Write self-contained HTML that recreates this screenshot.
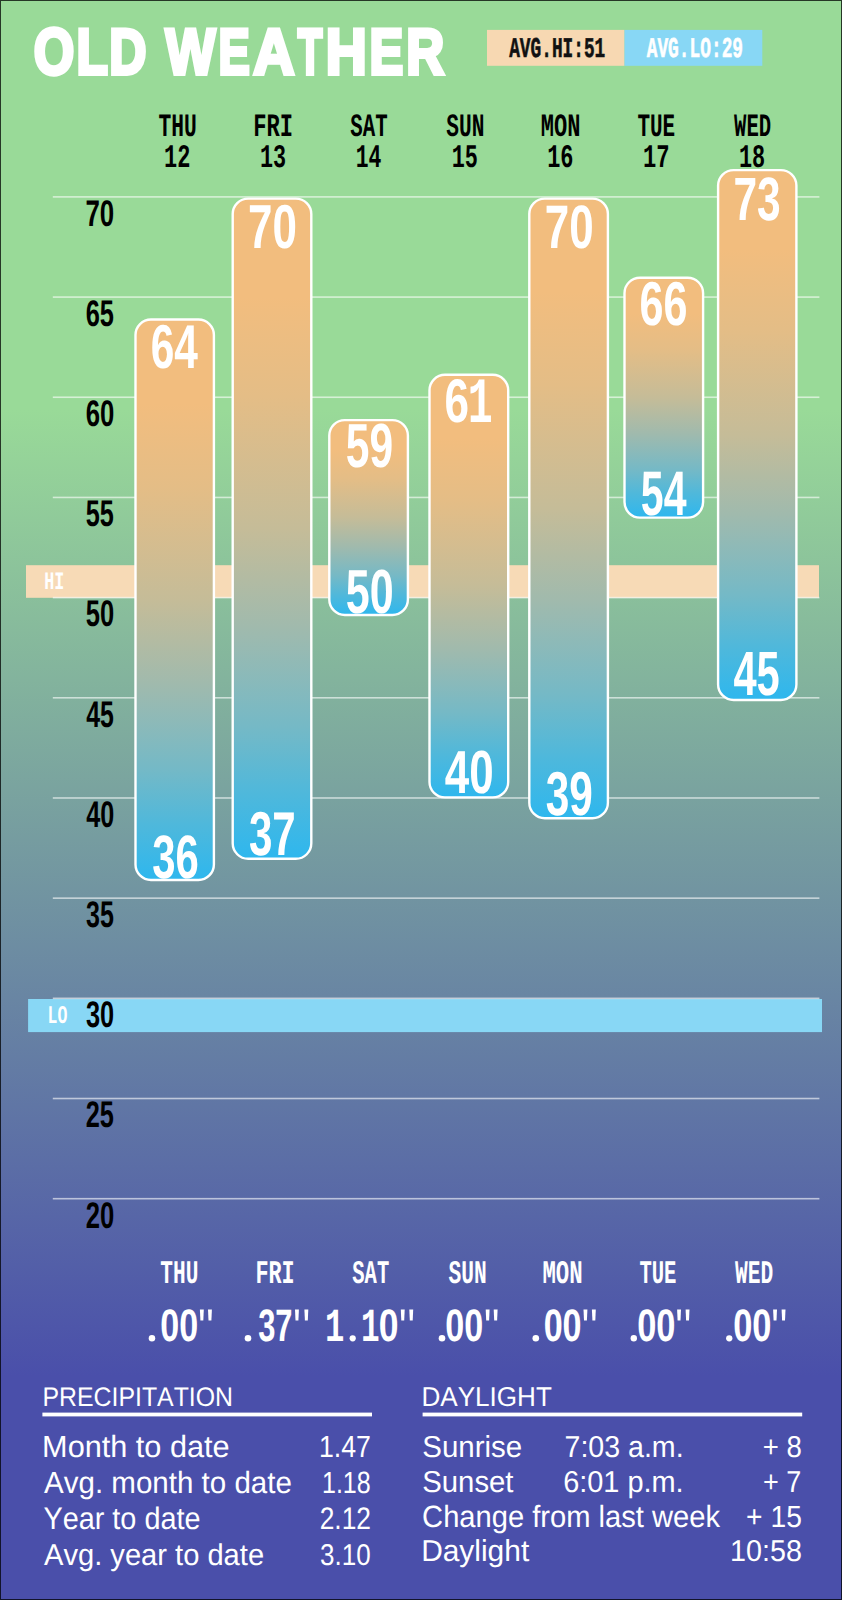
<!DOCTYPE html>
<html><head><meta charset="utf-8"><style>
html,body{margin:0;padding:0;width:842px;height:1600px;overflow:hidden;background:#4a4faa}
svg{display:block}
text{font-kerning:none;white-space:pre;text-rendering:geometricPrecision}
</style></head><body>
<svg width="842" height="1600" viewBox="0 0 842 1600">
<defs>
<linearGradient id="bgp" x1="0" y1="0" x2="0" y2="1600" gradientUnits="userSpaceOnUse">
<stop offset="0" stop-color="#99da98"/>
<stop offset="0.256" stop-color="#99da98"/>
<stop offset="0.86" stop-color="#4a4faa"/>
<stop offset="1" stop-color="#4a4faa"/>
</linearGradient>
<linearGradient id="bg" x1="0" y1="0" x2="0" y2="1">
<stop offset="0.00" stop-color="#f2bd7e"/>
<stop offset="0.15" stop-color="#f2bd7e"/>
<stop offset="0.30" stop-color="#e4bd86"/>
<stop offset="0.50" stop-color="#c5bc98"/>
<stop offset="0.65" stop-color="#a0baad"/>
<stop offset="0.80" stop-color="#75b9c6"/>
<stop offset="0.90" stop-color="#4fb8db"/>
<stop offset="1.00" stop-color="#2eb7ee"/>
</linearGradient>
</defs>
<rect x="0" y="0" width="842" height="1600" fill="url(#bgp)"/>
<rect x="487" y="29.9" width="137.5" height="35.9" fill="#f7d8b2"/>
<rect x="624.5" y="29.9" width="137.8" height="35.9" fill="#88d7f5"/>
<rect x="26" y="565.2" width="793" height="32.6" fill="#f7dab6"/>
<rect x="28.1" y="999" width="793.9" height="33.1" fill="#88d7f5"/>
<rect x="52.8" y="196.10" width="766.6" height="1.6" fill="#fff" fill-opacity="0.6"/>
<rect x="52.8" y="296.28" width="766.6" height="1.6" fill="#fff" fill-opacity="0.6"/>
<rect x="52.8" y="396.46" width="766.6" height="1.6" fill="#fff" fill-opacity="0.6"/>
<rect x="52.8" y="496.64" width="766.6" height="1.6" fill="#fff" fill-opacity="0.6"/>
<rect x="52.8" y="596.82" width="766.6" height="1.6" fill="#fff" fill-opacity="0.6"/>
<rect x="52.8" y="697.00" width="766.6" height="1.6" fill="#fff" fill-opacity="0.6"/>
<rect x="52.8" y="797.18" width="766.6" height="1.6" fill="#fff" fill-opacity="0.6"/>
<rect x="52.8" y="897.36" width="766.6" height="1.6" fill="#fff" fill-opacity="0.6"/>
<rect x="52.8" y="997.54" width="766.6" height="1.6" fill="#fff" fill-opacity="0.6"/>
<rect x="52.8" y="1097.72" width="766.6" height="1.6" fill="#fff" fill-opacity="0.6"/>
<rect x="52.8" y="1197.90" width="766.6" height="1.6" fill="#fff" fill-opacity="0.6"/>
<text x="33.76" y="74.36" font-family="'Liberation Sans'" font-weight="700" font-size="65.47" fill="#fff" textLength="40.52" lengthAdjust="spacingAndGlyphs" stroke="#fff" stroke-width="4.00" stroke-linejoin="miter">O</text>
<text x="76.46" y="74.10" font-family="'Liberation Sans'" font-weight="700" font-size="64.68" fill="#fff" textLength="31.42" lengthAdjust="spacingAndGlyphs" stroke="#fff" stroke-width="4.00" stroke-linejoin="miter">L</text>
<text x="109.25" y="74.10" font-family="'Liberation Sans'" font-weight="700" font-size="64.68" fill="#fff" textLength="37.21" lengthAdjust="spacingAndGlyphs" stroke="#fff" stroke-width="4.00" stroke-linejoin="miter">D</text>
<text x="165.55" y="74.10" font-family="'Liberation Sans'" font-weight="700" font-size="64.68" fill="#fff" textLength="49.90" lengthAdjust="spacingAndGlyphs" stroke="#fff" stroke-width="4.00" stroke-linejoin="miter">W</text>
<text x="218.56" y="74.10" font-family="'Liberation Sans'" font-weight="700" font-size="64.68" fill="#fff" textLength="31.27" lengthAdjust="spacingAndGlyphs" stroke="#fff" stroke-width="4.00" stroke-linejoin="miter">E</text>
<text x="253.18" y="74.10" font-family="'Liberation Sans'" font-weight="700" font-size="64.68" fill="#fff" textLength="41.23" lengthAdjust="spacingAndGlyphs" stroke="#fff" stroke-width="4.00" stroke-linejoin="miter">A</text>
<text x="297.85" y="74.10" font-family="'Liberation Sans'" font-weight="700" font-size="64.68" fill="#fff" textLength="24.58" lengthAdjust="spacingAndGlyphs" stroke="#fff" stroke-width="4.00" stroke-linejoin="miter">T</text>
<text x="325.80" y="74.10" font-family="'Liberation Sans'" font-weight="700" font-size="64.68" fill="#fff" textLength="41.03" lengthAdjust="spacingAndGlyphs" stroke="#fff" stroke-width="4.00" stroke-linejoin="miter">H</text>
<text x="369.51" y="74.10" font-family="'Liberation Sans'" font-weight="700" font-size="64.68" fill="#fff" textLength="33.76" lengthAdjust="spacingAndGlyphs" stroke="#fff" stroke-width="4.00" stroke-linejoin="miter">E</text>
<text x="406.28" y="74.10" font-family="'Liberation Sans'" font-weight="700" font-size="64.68" fill="#fff" textLength="38.00" lengthAdjust="spacingAndGlyphs" stroke="#fff" stroke-width="4.00" stroke-linejoin="miter">R</text>
<text x="509.20" y="56.70" font-family="'Liberation Mono'" font-weight="700" font-size="28.54" fill="#111" textLength="96.06" lengthAdjust="spacingAndGlyphs" stroke="#111" stroke-width="0.60" stroke-linejoin="miter">AVG.HI:51</text>
<text x="646.70" y="56.70" font-family="'Liberation Mono'" font-weight="700" font-size="28.54" fill="#fff" textLength="96.37" lengthAdjust="spacingAndGlyphs" stroke="#fff" stroke-width="0.60" stroke-linejoin="miter">AVG.LO:29</text>
<text x="158.52" y="136.40" font-family="'Liberation Mono'" font-weight="700" font-size="32.49" fill="#000" textLength="38.27" lengthAdjust="spacingAndGlyphs">THU</text>
<text x="164.02" y="166.50" font-family="'Liberation Mono'" font-weight="700" font-size="32.94" fill="#000" textLength="26.37" lengthAdjust="spacingAndGlyphs">12</text>
<text x="253.35" y="136.40" font-family="'Liberation Mono'" font-weight="700" font-size="32.49" fill="#000" textLength="39.79" lengthAdjust="spacingAndGlyphs">FRI</text>
<text x="260.03" y="166.50" font-family="'Liberation Mono'" font-weight="700" font-size="32.94" fill="#000" textLength="26.18" lengthAdjust="spacingAndGlyphs">13</text>
<text x="350.37" y="136.40" font-family="'Liberation Mono'" font-weight="700" font-size="32.49" fill="#000" textLength="37.30" lengthAdjust="spacingAndGlyphs">SAT</text>
<text x="355.66" y="166.50" font-family="'Liberation Mono'" font-weight="700" font-size="32.94" fill="#000" textLength="25.68" lengthAdjust="spacingAndGlyphs">14</text>
<text x="446.36" y="136.40" font-family="'Liberation Mono'" font-weight="700" font-size="32.49" fill="#000" textLength="38.09" lengthAdjust="spacingAndGlyphs">SUN</text>
<text x="451.63" y="166.50" font-family="'Liberation Mono'" font-weight="700" font-size="32.94" fill="#000" textLength="26.20" lengthAdjust="spacingAndGlyphs">15</text>
<text x="540.83" y="136.40" font-family="'Liberation Mono'" font-weight="700" font-size="32.49" fill="#000" textLength="39.72" lengthAdjust="spacingAndGlyphs">MON</text>
<text x="547.22" y="166.50" font-family="'Liberation Mono'" font-weight="700" font-size="32.94" fill="#000" textLength="26.30" lengthAdjust="spacingAndGlyphs">16</text>
<text x="637.43" y="136.40" font-family="'Liberation Mono'" font-weight="700" font-size="32.49" fill="#000" textLength="37.78" lengthAdjust="spacingAndGlyphs">TUE</text>
<text x="642.91" y="166.50" font-family="'Liberation Mono'" font-weight="700" font-size="32.94" fill="#000" textLength="26.57" lengthAdjust="spacingAndGlyphs">17</text>
<text x="734.05" y="136.40" font-family="'Liberation Mono'" font-weight="700" font-size="32.49" fill="#000" textLength="37.11" lengthAdjust="spacingAndGlyphs">WED</text>
<text x="738.93" y="166.50" font-family="'Liberation Mono'" font-weight="700" font-size="32.94" fill="#000" textLength="26.24" lengthAdjust="spacingAndGlyphs">18</text>
<text x="85.49" y="225.70" font-family="'Liberation Sans'" font-weight="700" font-size="37.06" fill="#000" textLength="28.77" lengthAdjust="spacingAndGlyphs">70</text>
<text x="85.67" y="325.88" font-family="'Liberation Sans'" font-weight="700" font-size="37.06" fill="#000" textLength="28.24" lengthAdjust="spacingAndGlyphs">65</text>
<text x="85.66" y="426.06" font-family="'Liberation Sans'" font-weight="700" font-size="37.06" fill="#000" textLength="28.60" lengthAdjust="spacingAndGlyphs">60</text>
<text x="85.82" y="526.24" font-family="'Liberation Sans'" font-weight="700" font-size="37.06" fill="#000" textLength="28.08" lengthAdjust="spacingAndGlyphs">55</text>
<text x="85.81" y="626.42" font-family="'Liberation Sans'" font-weight="700" font-size="37.06" fill="#000" textLength="28.43" lengthAdjust="spacingAndGlyphs">50</text>
<text x="86.22" y="726.60" font-family="'Liberation Sans'" font-weight="700" font-size="37.06" fill="#000" textLength="27.67" lengthAdjust="spacingAndGlyphs">45</text>
<text x="86.22" y="826.78" font-family="'Liberation Sans'" font-weight="700" font-size="37.06" fill="#000" textLength="28.01" lengthAdjust="spacingAndGlyphs">40</text>
<text x="86.02" y="926.96" font-family="'Liberation Sans'" font-weight="700" font-size="37.06" fill="#000" textLength="27.87" lengthAdjust="spacingAndGlyphs">35</text>
<text x="86.02" y="1027.14" font-family="'Liberation Sans'" font-weight="700" font-size="37.06" fill="#000" textLength="28.22" lengthAdjust="spacingAndGlyphs">30</text>
<text x="85.72" y="1127.32" font-family="'Liberation Sans'" font-weight="700" font-size="37.06" fill="#000" textLength="28.18" lengthAdjust="spacingAndGlyphs">25</text>
<text x="85.71" y="1227.50" font-family="'Liberation Sans'" font-weight="700" font-size="37.06" fill="#000" textLength="28.54" lengthAdjust="spacingAndGlyphs">20</text>
<text x="44.17" y="588.90" font-family="'Liberation Mono'" font-weight="700" font-size="24.90" fill="#fff" textLength="20.10" lengthAdjust="spacingAndGlyphs">HI</text>
<text x="47.60" y="1023.00" font-family="'Liberation Mono'" font-weight="700" font-size="25.51" fill="#fff" textLength="19.78" lengthAdjust="spacingAndGlyphs">LO</text>
<rect x="135.50" y="319.50" width="78.40" height="560.50" rx="15.5" ry="15.5" fill="url(#bg)" stroke="#fff" stroke-width="2.4"/>
<rect x="232.70" y="198.60" width="78.60" height="660.20" rx="15.5" ry="15.5" fill="url(#bg)" stroke="#fff" stroke-width="2.4"/>
<rect x="329.30" y="420.10" width="78.60" height="194.90" rx="15.5" ry="15.5" fill="url(#bg)" stroke="#fff" stroke-width="2.4"/>
<rect x="429.50" y="374.80" width="78.70" height="422.60" rx="15.5" ry="15.5" fill="url(#bg)" stroke="#fff" stroke-width="2.4"/>
<rect x="529.30" y="198.60" width="78.60" height="619.60" rx="15.5" ry="15.5" fill="url(#bg)" stroke="#fff" stroke-width="2.4"/>
<rect x="624.50" y="277.70" width="78.60" height="239.90" rx="15.5" ry="15.5" fill="url(#bg)" stroke="#fff" stroke-width="2.4"/>
<rect x="718.10" y="170.10" width="78.30" height="529.90" rx="15.5" ry="15.5" fill="url(#bg)" stroke="#fff" stroke-width="2.4"/>
<text x="150.75" y="368.40" font-family="'Liberation Sans'" font-weight="700" font-size="61.86" fill="#fff" textLength="47.18" lengthAdjust="spacingAndGlyphs">64</text>
<text x="248.01" y="247.59" font-family="'Liberation Sans'" font-weight="700" font-size="62.00" fill="#fff" textLength="48.89" lengthAdjust="spacingAndGlyphs">70</text>
<text x="345.79" y="467.39" font-family="'Liberation Sans'" font-weight="700" font-size="62.15" fill="#fff" textLength="47.29" lengthAdjust="spacingAndGlyphs">59</text>
<text x="544.81" y="248.20" font-family="'Liberation Sans'" font-weight="700" font-size="61.30" fill="#fff" textLength="48.89" lengthAdjust="spacingAndGlyphs">70</text>
<text x="639.52" y="325.19" font-family="'Liberation Sans'" font-weight="700" font-size="62.00" fill="#fff" textLength="47.94" lengthAdjust="spacingAndGlyphs">66</text>
<text x="733.47" y="219.91" font-family="'Liberation Sans'" font-weight="700" font-size="61.17" fill="#fff" textLength="47.26" lengthAdjust="spacingAndGlyphs">73</text>
<text x="152.34" y="877.51" font-family="'Liberation Sans'" font-weight="700" font-size="61.17" fill="#fff" textLength="46.57" lengthAdjust="spacingAndGlyphs">36</text>
<text x="248.93" y="855.11" font-family="'Liberation Sans'" font-weight="700" font-size="61.88" fill="#fff" textLength="46.82" lengthAdjust="spacingAndGlyphs">37</text>
<text x="345.78" y="613.19" font-family="'Liberation Sans'" font-weight="700" font-size="62.15" fill="#fff" textLength="47.89" lengthAdjust="spacingAndGlyphs">50</text>
<text x="444.83" y="793.41" font-family="'Liberation Sans'" font-weight="700" font-size="60.88" fill="#fff" textLength="48.87" lengthAdjust="spacingAndGlyphs">40</text>
<text x="545.73" y="815.11" font-family="'Liberation Sans'" font-weight="700" font-size="61.88" fill="#fff" textLength="47.15" lengthAdjust="spacingAndGlyphs">39</text>
<text x="640.84" y="515.19" font-family="'Liberation Sans'" font-weight="700" font-size="62.92" fill="#fff" textLength="45.68" lengthAdjust="spacingAndGlyphs">54</text>
<text x="733.47" y="694.99" font-family="'Liberation Sans'" font-weight="700" font-size="62.63" fill="#fff" textLength="46.29" lengthAdjust="spacingAndGlyphs">45</text>
<text x="444.49" y="422.40" font-family="'Liberation Sans'" font-weight="700" font-size="61.44" fill="#fff" textLength="24.51" lengthAdjust="spacingAndGlyphs">6</text>
<text x="467.80" y="422.40" font-family="'Liberation Mono'" font-weight="700" font-size="64.67" fill="#fff" textLength="24.97" lengthAdjust="spacingAndGlyphs">1</text>
<text x="160.27" y="1282.60" font-family="'Liberation Mono'" font-weight="700" font-size="33.10" fill="#fff" textLength="38.06" lengthAdjust="spacingAndGlyphs">THU</text>
<text x="255.42" y="1282.60" font-family="'Liberation Mono'" font-weight="700" font-size="33.10" fill="#fff" textLength="39.24" lengthAdjust="spacingAndGlyphs">FRI</text>
<text x="352.32" y="1282.60" font-family="'Liberation Mono'" font-weight="700" font-size="33.10" fill="#fff" textLength="36.89" lengthAdjust="spacingAndGlyphs">SAT</text>
<text x="448.51" y="1282.60" font-family="'Liberation Mono'" font-weight="700" font-size="33.10" fill="#fff" textLength="38.19" lengthAdjust="spacingAndGlyphs">SUN</text>
<text x="542.42" y="1282.60" font-family="'Liberation Mono'" font-weight="700" font-size="33.10" fill="#fff" textLength="40.25" lengthAdjust="spacingAndGlyphs">MON</text>
<text x="639.39" y="1282.60" font-family="'Liberation Mono'" font-weight="700" font-size="33.10" fill="#fff" textLength="37.05" lengthAdjust="spacingAndGlyphs">TUE</text>
<text x="735.10" y="1282.60" font-family="'Liberation Mono'" font-weight="700" font-size="33.10" fill="#fff" textLength="38.23" lengthAdjust="spacingAndGlyphs">WED</text>
<circle cx="151.95" cy="1338.30" r="3.25" fill="#fff"/>
<text x="160.35" y="1341.35" font-family="'Liberation Sans'" font-weight="700" font-size="45.62" fill="#fff" textLength="37.84" lengthAdjust="spacingAndGlyphs">00</text>
<path d="M199.90 1309.50 L203.80 1309.50 L203.30 1320.50 L200.40 1320.50 Z" fill="#fff"/><path d="M208.00 1309.50 L211.90 1309.50 L211.40 1320.50 L208.50 1320.50 Z" fill="#fff"/>
<circle cx="248.00" cy="1338.30" r="3.30" fill="#fff"/>
<text x="258.19" y="1341.29" font-family="'Liberation Sans'" font-weight="700" font-size="45.53" fill="#fff" textLength="34.37" lengthAdjust="spacingAndGlyphs">37</text>
<path d="M295.00 1309.50 L298.90 1309.50 L298.40 1320.50 L295.50 1320.50 Z" fill="#fff"/><path d="M304.40 1309.50 L308.30 1309.50 L307.80 1320.50 L304.90 1320.50 Z" fill="#fff"/>
<text x="324.93" y="1341.40" font-family="'Liberation Mono'" font-weight="700" font-size="47.52" fill="#fff" textLength="19.34" lengthAdjust="spacingAndGlyphs">1</text>
<circle cx="352.70" cy="1338.30" r="3.10" fill="#fff"/>
<text x="361.11" y="1341.40" font-family="'Liberation Mono'" font-weight="700" font-size="47.52" fill="#fff" textLength="18.61" lengthAdjust="spacingAndGlyphs">1</text>
<text x="378.69" y="1341.35" font-family="'Liberation Sans'" font-weight="700" font-size="45.62" fill="#fff" textLength="19.76" lengthAdjust="spacingAndGlyphs">0</text>
<path d="M400.80 1309.50 L404.70 1309.50 L404.20 1320.50 L401.30 1320.50 Z" fill="#fff"/><path d="M409.30 1309.50 L413.20 1309.50 L412.70 1320.50 L409.80 1320.50 Z" fill="#fff"/>
<circle cx="442.00" cy="1338.30" r="3.30" fill="#fff"/>
<text x="445.35" y="1341.35" font-family="'Liberation Sans'" font-weight="700" font-size="45.62" fill="#fff" textLength="37.95" lengthAdjust="spacingAndGlyphs">00</text>
<path d="M485.70 1309.50 L489.60 1309.50 L489.10 1320.50 L486.20 1320.50 Z" fill="#fff"/><path d="M493.70 1309.50 L497.60 1309.50 L497.10 1320.50 L494.20 1320.50 Z" fill="#fff"/>
<circle cx="535.80" cy="1338.30" r="3.30" fill="#fff"/>
<text x="543.65" y="1341.35" font-family="'Liberation Sans'" font-weight="700" font-size="45.62" fill="#fff" textLength="37.95" lengthAdjust="spacingAndGlyphs">00</text>
<path d="M583.50 1309.50 L587.40 1309.50 L586.90 1320.50 L584.00 1320.50 Z" fill="#fff"/><path d="M591.90 1309.50 L595.80 1309.50 L595.30 1320.50 L592.40 1320.50 Z" fill="#fff"/>
<circle cx="633.80" cy="1338.30" r="3.20" fill="#fff"/>
<text x="637.24" y="1341.35" font-family="'Liberation Sans'" font-weight="700" font-size="45.62" fill="#fff" textLength="38.27" lengthAdjust="spacingAndGlyphs">00</text>
<path d="M677.10 1309.50 L681.00 1309.50 L680.50 1320.50 L677.60 1320.50 Z" fill="#fff"/><path d="M685.60 1309.50 L689.50 1309.50 L689.00 1320.50 L686.10 1320.50 Z" fill="#fff"/>
<circle cx="729.25" cy="1338.30" r="3.15" fill="#fff"/>
<text x="733.24" y="1341.35" font-family="'Liberation Sans'" font-weight="700" font-size="45.62" fill="#fff" textLength="38.27" lengthAdjust="spacingAndGlyphs">00</text>
<path d="M773.10 1309.50 L777.00 1309.50 L776.50 1320.50 L773.60 1320.50 Z" fill="#fff"/><path d="M781.60 1309.50 L785.50 1309.50 L785.00 1320.50 L782.10 1320.50 Z" fill="#fff"/>
<rect x="42.4" y="1412.6" width="329.6" height="3.8" fill="#fff"/>
<rect x="422.6" y="1412.6" width="379.6" height="3.8" fill="#fff"/>
<text x="42.46" y="1405.90" font-family="'Liberation Sans'" font-weight="400" font-size="26.89" fill="#fff" textLength="190.57" lengthAdjust="spacingAndGlyphs">PRECIPITATION</text>
<text x="421.46" y="1405.90" font-family="'Liberation Sans'" font-weight="400" font-size="27.18" fill="#fff" textLength="130.44" lengthAdjust="spacingAndGlyphs">DAYLIGHT</text>
<text x="42.08" y="1457.00" font-family="'Liberation Sans'" font-weight="400" font-size="30.67" fill="#fff" textLength="187.58" lengthAdjust="spacingAndGlyphs">Month to date</text>
<text x="318.97" y="1457.00" font-family="'Liberation Sans'" font-weight="400" font-size="30.67" fill="#fff" textLength="51.98" lengthAdjust="spacingAndGlyphs">1.47</text>
<text x="44.04" y="1492.80" font-family="'Liberation Sans'" font-weight="400" font-size="30.67" fill="#fff" textLength="247.87" lengthAdjust="spacingAndGlyphs">Avg. month to date</text>
<text x="321.99" y="1492.80" font-family="'Liberation Sans'" font-weight="400" font-size="30.67" fill="#fff" textLength="48.69" lengthAdjust="spacingAndGlyphs">1.18</text>
<text x="43.47" y="1529.00" font-family="'Liberation Sans'" font-weight="400" font-size="31.11" fill="#fff" textLength="157.01" lengthAdjust="spacingAndGlyphs">Year to date</text>
<text x="319.68" y="1529.00" font-family="'Liberation Sans'" font-weight="400" font-size="31.11" fill="#fff" textLength="51.25" lengthAdjust="spacingAndGlyphs">2.12</text>
<text x="44.04" y="1564.60" font-family="'Liberation Sans'" font-weight="400" font-size="30.09" fill="#fff" textLength="220.05" lengthAdjust="spacingAndGlyphs">Avg. year to date</text>
<text x="320.01" y="1564.60" font-family="'Liberation Sans'" font-weight="400" font-size="30.09" fill="#fff" textLength="50.61" lengthAdjust="spacingAndGlyphs">3.10</text>
<text x="422.26" y="1456.90" font-family="'Liberation Sans'" font-weight="400" font-size="30.23" fill="#fff" textLength="99.95" lengthAdjust="spacingAndGlyphs">Sunrise</text>
<text x="564.54" y="1456.90" font-family="'Liberation Sans'" font-weight="400" font-size="30.23" fill="#fff" textLength="119.07" lengthAdjust="spacingAndGlyphs">7:03 a.m.</text>
<text x="762.86" y="1456.90" font-family="'Liberation Sans'" font-weight="400" font-size="30.23" fill="#fff" textLength="39.04" lengthAdjust="spacingAndGlyphs">+ 8</text>
<text x="422.27" y="1491.90" font-family="'Liberation Sans'" font-weight="400" font-size="30.23" fill="#fff" textLength="91.25" lengthAdjust="spacingAndGlyphs">Sunset</text>
<text x="563.13" y="1491.90" font-family="'Liberation Sans'" font-weight="400" font-size="30.23" fill="#fff" textLength="120.51" lengthAdjust="spacingAndGlyphs">6:01 p.m.</text>
<text x="762.88" y="1491.90" font-family="'Liberation Sans'" font-weight="400" font-size="30.23" fill="#fff" textLength="38.28" lengthAdjust="spacingAndGlyphs">+ 7</text>
<text x="422.12" y="1526.70" font-family="'Liberation Sans'" font-weight="400" font-size="30.67" fill="#fff" textLength="297.84" lengthAdjust="spacingAndGlyphs">Change from last week</text>
<text x="746.12" y="1526.70" font-family="'Liberation Sans'" font-weight="400" font-size="30.67" fill="#fff" textLength="55.77" lengthAdjust="spacingAndGlyphs">+ 15</text>
<text x="421.15" y="1561.00" font-family="'Liberation Sans'" font-weight="400" font-size="30.23" fill="#fff" textLength="108.07" lengthAdjust="spacingAndGlyphs">Daylight</text>
<text x="730.11" y="1561.00" font-family="'Liberation Sans'" font-weight="400" font-size="30.23" fill="#fff" textLength="71.83" lengthAdjust="spacingAndGlyphs">10:58</text>
<rect x="0.5" y="0.5" width="841" height="1599" fill="none" stroke="#000" stroke-opacity="0.75" stroke-width="1"/>
</svg>
</body></html>
